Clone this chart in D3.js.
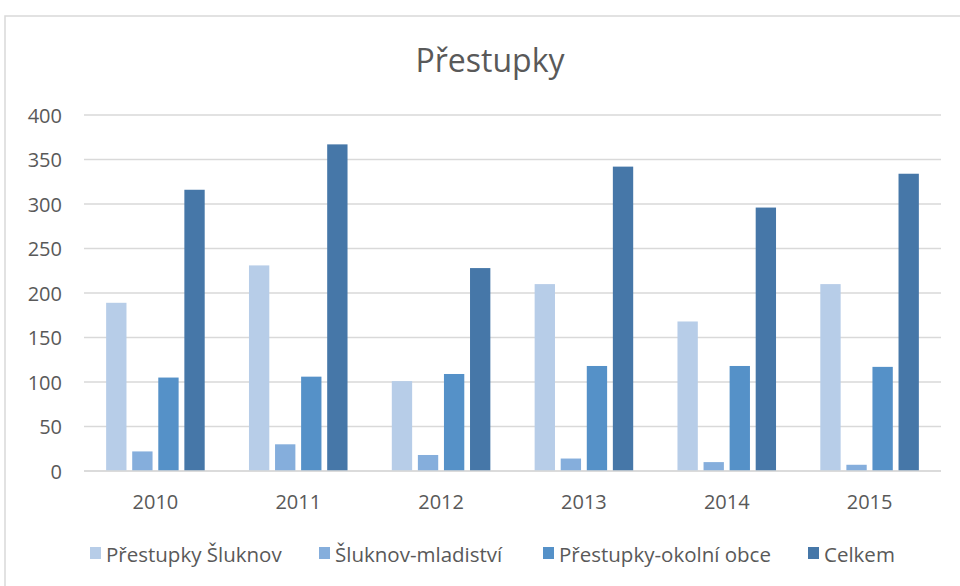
<!DOCTYPE html>
<html><head><meta charset="utf-8">
<script src="https://cdn.jsdelivr.net/npm/d3@7"></script>
<style>
html,body{margin:0;padding:0;background:#fff;}
svg{display:block;font-family:"Open Sans",Lato,sans-serif;}
</style></head>
<body>
<svg id="chart" width="960" height="586"></svg>
<script>
const title = "Přestupky";
const years = ["2010","2011","2012","2013","2014","2015"];
const seriesNames = ["Přestupky Šluknov","Šluknov-mladiství","Přestupky-okolní obce","Celkem"];
const prestupkySluknov = [189,231,101,210,168,210];
const sluknovMladistvi = [22,30,18,14,10,7];
const prestupkyOkolni = [105,106,109,118,118,117];
const celkem = [316,367,228,342,296,334];
const yTicks = [0,50,100,150,200,250,300,350,400];
const colors = ["#B7CDE8","#85AEDC","#5591C8","#4677A8"];

const seriesValues = [prestupkySluknov, sluknovMladistvi, prestupkyOkolni, celkem];
const rows = years.map((y,i)=>({year:y, values: seriesValues.map(s=>s[i])}));

const FONT = "'Open Sans',Lato,sans-serif";
const svg = d3.select("#chart");
const y = d3.scaleLinear().domain([0,400]).range([471,115]);
const x0 = d3.scaleBand().domain(years).range([84,941]).paddingInner(0.31).paddingOuter(0.155);
const x1 = d3.scaleBand().domain(d3.range(4)).range([0,x0.bandwidth()]).paddingInner(0.22).paddingOuter(0);

// chart border
svg.append("rect").attr("x",5).attr("y",16).attr("width",1000).attr("height",600)
  .attr("fill","none").attr("stroke","#D9D9D9").attr("stroke-width",1.5);

// title
svg.append("text").attr("x",490).attr("y",72).attr("text-anchor","middle")
  .attr("font-size",32).attr("fill","#595959").text(title);

// gridlines
svg.append("g").selectAll("line").data(yTicks).join("line")
  .attr("x1",84).attr("x2",941).attr("y1",d=>y(d)).attr("y2",d=>y(d))
  .attr("stroke","#D9D9D9").attr("stroke-width",1.5);

// y axis labels
const yAxis = d3.axisLeft(y).tickValues(yTicks).tickSize(0).tickPadding(0);
const ga = svg.append("g").attr("transform","translate(62,0)").call(yAxis);
ga.select(".domain").remove();
ga.selectAll("text").attr("font-size",20).attr("fill","#595959").attr("font-family",FONT).attr("dy","0.36em");

// bars
const groups = svg.append("g").selectAll("g").data(rows).join("g")
  .attr("transform",d=>`translate(${x0(d.year)},0)`);
groups.selectAll("rect").data(d=>d.values.map((v,i)=>({v,i}))).join("rect")
  .attr("x",d=>x1(d.i)).attr("width",x1.bandwidth())
  .attr("y",d=>y(d.v)).attr("height",d=>y(0)-y(d.v))
  .attr("fill",d=>colors[d.i]);

// x axis baseline
svg.append("line").attr("x1",84).attr("x2",941).attr("y1",y(0)).attr("y2",y(0))
  .attr("stroke","#D9D9D9").attr("stroke-width",1.5);

// x axis labels
const xAxis = d3.axisBottom(x0).tickSize(0).tickPadding(0);
const gx = svg.append("g").attr("transform","translate(0,509)").call(xAxis);
gx.select(".domain").remove();
gx.selectAll("text").attr("font-size",20).attr("fill","#595959").attr("font-family",FONT).attr("dy",0);

// legend
const legendX = [90,319,543,808];
const lg = svg.append("g").selectAll("g").data(seriesNames).join("g")
  .attr("transform",(d,i)=>`translate(${legendX[i]},547)`);
lg.append("rect").attr("width",11).attr("height",12).attr("fill",(d,i)=>colors[i]);
lg.append("text").attr("x",16).attr("y",14.5).attr("font-size",20.5).attr("fill","#595959").text(d=>d);
</script>
</body></html>
